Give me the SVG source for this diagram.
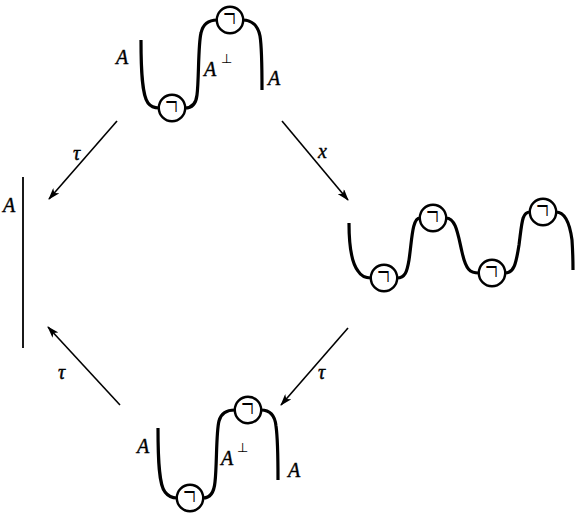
<svg xmlns="http://www.w3.org/2000/svg" width="575" height="515" viewBox="0 0 575 515">
<style>
.strand{fill:none;stroke:#000;stroke-width:3.2;stroke-linecap:butt}
.bead{fill:#fff;stroke:#000;stroke-width:2.4}
.neg{font-family:'Liberation Serif',serif;font-size:22px;fill:#000}
.lbl{font-family:'Liberation Serif','DejaVu Serif',serif;font-style:italic;font-size:20px;fill:#000;stroke:#000;stroke-width:0.4}
.sup{font-family:'DejaVu Sans',sans-serif;font-size:13px;fill:#000}
.arrow{fill:none;stroke:#000;stroke-width:1.6}
</style>
<defs>
<marker id="ah" viewBox="0 0 12 8" refX="11" refY="4" markerWidth="12" markerHeight="8" markerUnits="userSpaceOnUse" orient="auto">
<path d="M0,0 L12,4 L0,8 L3,4 Z" fill="#000"/>
</marker>
<g id="beadsym">
<circle class="bead" cx="0" cy="0" r="13.2"/>
<text class="neg" x="0" y="0" text-anchor="middle" transform="translate(-0.5,8) scale(1,1.9)">¬</text>
</g>
</defs>
<g id="top">
<path class="strand" d="M141,40 C141,70 142,95 148,103 C151,107 154,108 159,108"/>
<path class="strand" d="M185,108 C192,108 196,104 197,95 C199,80 198,45 201,33 C203,24 209,20 217,20"/>
<path class="strand" d="M243,20 C252,20 258,26 260,36 C262,48 262,70 262,90"/>
<use href="#beadsym" x="172" y="108"/>
<use href="#beadsym" x="230" y="20"/>
<text class="lbl" x="116" y="64">A</text>
<text class="lbl" x="204" y="76">A</text>
<text class="sup" x="221" y="63">⊥</text>
<text class="lbl" x="268" y="85">A</text>
</g>
<g id="right">
<path class="strand" d="M349,223 C349,245 351,262 358,271 C361,276 365,278 371,278"/>
<path class="strand" d="M397,278 C405,278 407,272 409,260 C412,240 412,218 420,218"/>
<path class="strand" d="M446,218 C456,218 458,235 462,252 C466,270 470,273 479,273"/>
<path class="strand" d="M505,273 C514,273 516,264 519,245 C522,222 522,212 530,212"/>
<path class="strand" d="M556,212 C566,212 570,225 572,240 C573,255 573,262 573,270"/>
<use href="#beadsym" x="384" y="278"/>
<use href="#beadsym" x="433" y="218"/>
<use href="#beadsym" x="492" y="273"/>
<use href="#beadsym" x="543" y="212"/>
</g>
<g id="bottom">
<path class="strand" d="M158,428 C158,460 159,485 165,492 C168,496 172,498 177,498"/>
<path class="strand" d="M203,498 C210,498 214,493 215,482 C217,465 216,432 219,421 C221,413 226,410 235,410"/>
<path class="strand" d="M261,410 C270,410 275,416 276,426 C278,440 278,460 278,480"/>
<use href="#beadsym" x="190" y="498"/>
<use href="#beadsym" x="248" y="410"/>
<text class="lbl" x="137" y="453">A</text>
<text class="lbl" x="221" y="465">A</text>
<text class="sup" x="237" y="452">⊥</text>
<text class="lbl" x="288" y="477">A</text>
</g>
<g id="left">
<line x1="23" y1="177" x2="23" y2="348" stroke="#000" stroke-width="1.8"/>
<text class="lbl" x="3" y="212">A</text>
</g>
<g id="connectors">
<line class="arrow" x1="117" y1="121" x2="49" y2="199" marker-end="url(#ah)"/>
<line class="arrow" x1="282" y1="121" x2="348" y2="200" marker-end="url(#ah)"/>
<line class="arrow" x1="120" y1="405" x2="48" y2="327" marker-end="url(#ah)"/>
<line class="arrow" x1="348" y1="328" x2="281" y2="405" marker-end="url(#ah)"/>
<text class="lbl" x="73" y="160">τ</text>
<text class="lbl" x="318" y="158">x</text>
<text class="lbl" x="58" y="379">τ</text>
<text class="lbl" x="318" y="379">τ</text>
</g>
</svg>
